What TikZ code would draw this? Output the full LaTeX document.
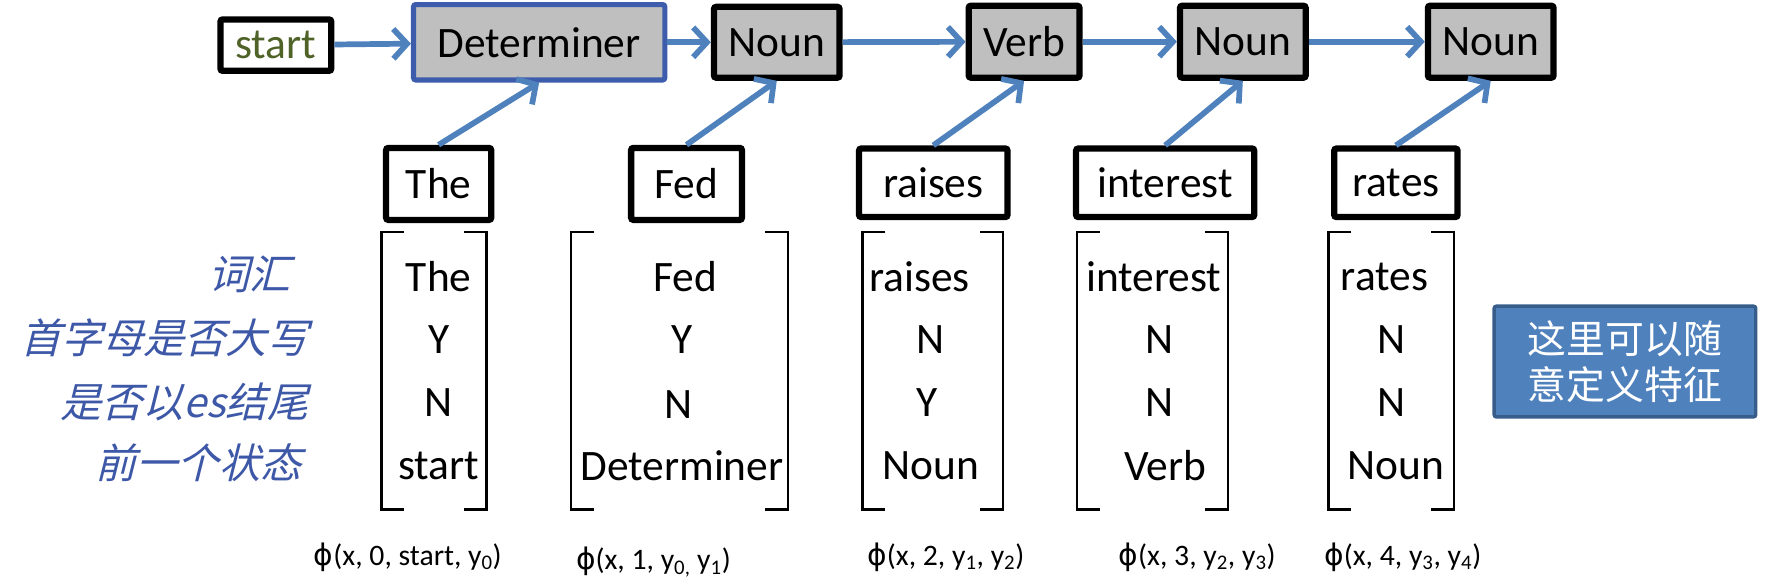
\documentclass[tikz,border=0pt]{standalone}
\usepackage{fontspec}
\setmainfont{Carlito}
\newfontfamily\cjk{Noto Sans CJK SC}
\newfontfamily\cjkit[FakeSlant=0.25]{Noto Sans CJK SC}
\newfontfamily\symf{DejaVu Sans}
\usetikzlibrary{arrows.meta}
\definecolor{tagfill}{RGB}{191,191,191}
\definecolor{detborder}{RGB}{62,92,172}
\definecolor{arrowblue}{RGB}{79,129,189}
\definecolor{startgreen}{RGB}{79,98,40}
\definecolor{labelblue}{RGB}{62,88,168}
\definecolor{notefill}{RGB}{79,129,189}
\definecolor{noteborder}{RGB}{56,93,138}
\tikzset{
  big/.style={font=\fontsize{38}{45}\selectfont},
  box/.style={draw=black, line width=5.5pt, inner sep=0pt, big, rounded corners=2pt},
  tagbox/.style={box, fill=tagfill},
  arr/.style={draw=arrowblue, line width=5pt, -{Straight Barb[length=12pt,width=26pt]}},
  brk/.style={draw=black, line width=2pt},
  cell/.style={big, inner sep=0pt},
  feat/.style={font=\fontsize{36}{42}\selectfont\cjkit, text=labelblue, inner sep=0pt, anchor=east},
  phil/.style={font=\fontsize{26}{30}\selectfont, inner sep=0pt}
}
\begin{document}
\begin{tikzpicture}[x=1pt,y=-1pt]
\useasboundingbox (0,0) rectangle (1560,512);
% top tags
\node[box, minimum width=97pt, minimum height=45pt, text=startgreen] (s) at (241.5,39.5) {start};
\node[tagbox, draw=detborder, line width=4.5pt, minimum width=220pt, minimum height=66pt] (t1) at (472,37) {Determiner};
\node[tagbox, minimum width=110pt, minimum height=62pt] (t2) at (680,37) {Noun};
\node[tagbox, minimum width=97pt, minimum height=63pt] (t3) at (896.5,36.5) {Verb};
\node[tagbox, minimum width=110pt, minimum height=63pt] (t4) at (1088,36.5) {Noun};
\node[tagbox, minimum width=110pt, minimum height=63pt] (t5) at (1305,36.5) {Noun};
\draw[arr] (s) -- (t1);
\draw[arr] (t1) -- (t2);
\draw[arr] (t2) -- (t3);
\draw[arr] (t3) -- (t4);
\draw[arr] (t4) -- (t5);
% words
\node[box, minimum width=92pt, minimum height=63pt] (w1) at (384,161) {The};
\node[box, minimum width=97pt, minimum height=63pt] (w2) at (601,161) {Fed};
\node[box, minimum width=130pt, minimum height=60pt] (w3) at (817,160) {raises};
\node[box, minimum width=156pt, minimum height=60pt] (w4) at (1020,160) {interest};
\node[box, minimum width=108pt, minimum height=60pt] (w5) at (1222,160) {rates};
\draw[arr] (w1.north) -- (t1.south);
\draw[arr] (w2.north) -- (t2.south);
\draw[arr] (w3.north) -- (t3.south);
\draw[arr] (w4.north) -- (t4.south);
\draw[arr] (w5.north) -- (t5.south);
% feature labels
\node[feat] (f1) at (255,240) {词汇};
\node[feat] (f2) at (270,296) {首字母是否大写};
\node[feat] (f3) at (270,352) {是否以es结尾};
\node[feat] (f4) at (264,405) {前一个状态};
% brackets
\foreach \l/\r in {334/426, 500/690, 755/878, 943/1075, 1163/1273}{
  \draw[brk] (\l+20,203) -- (\l,203) -- (\l,446) -- (\l+20,446);
  \draw[brk] (\r-20,203) -- (\r,203) -- (\r,446) -- (\r-20,446);
}
% column 1
\node[cell] (a1) at (384,242) {The};
\node[cell] (a2) at (384,297) {Y};
\node[cell] (a3) at (384,352) {N};
\node[cell] (a4) at (384,408) {start};
% column 2
\node[cell] (b1) at (600,242) {Fed};
\node[cell] (b2) at (597,297) {Y};
\node[cell] (b3) at (594,354) {N};
\node[cell] (b4) at (597,408) {Determiner};
% column 3
\node[cell] (c1) at (805,242) {raises};
\node[cell] (c2) at (815,297) {N};
\node[cell] (c3) at (812,352) {Y};
\node[cell] (c4) at (815,408) {Noun};
% column 4
\node[cell] (d1) at (1010,242) {interest};
\node[cell] (d2) at (1015,297) {N};
\node[cell] (d3) at (1015,352) {N};
\node[cell] (d4) at (1020,408) {Verb};
% column 5
\node[cell] (e1) at (1212,242) {rates};
\node[cell] (e2) at (1218,297) {N};
\node[cell] (e3) at (1218,352) {N};
\node[cell] (e4) at (1222,408) {Noun};
% phi labels
\node[phil] (p1) at (357,488) {{\symf ϕ}(x, 0, start, y\textsubscript{0})};
\node[phil] (p2) at (572,492) {{\symf ϕ}(x, 1, y\textsubscript{0,} y\textsubscript{1})};
\node[phil] (p3) at (828,488) {{\symf ϕ}(x, 2, y\textsubscript{1}, y\textsubscript{2})};
\node[phil] (p4) at (1048,488) {{\symf ϕ}(x, 3, y\textsubscript{2}, y\textsubscript{3})};
\node[phil] (p5) at (1228,488) {{\symf ϕ}(x, 4, y\textsubscript{3}, y\textsubscript{4})};
% note
\node[draw=noteborder, fill=notefill, line width=3pt, minimum width=229pt, minimum height=97pt, inner sep=0pt, align=left, text=white, font=\fontsize{34}{40}\selectfont\cjk, rounded corners=2pt] (n) at (1422.5,316.5) {这里可以随\\意定义特征};
\end{tikzpicture}
\end{document}
